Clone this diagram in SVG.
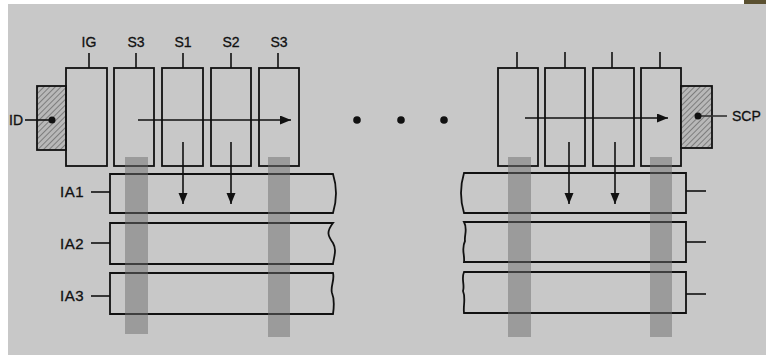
<svg xmlns="http://www.w3.org/2000/svg" width="766" height="358" viewBox="0 0 766 358">
<defs>
<style>
.bx{fill:none;stroke:#111;stroke-width:1.8}
.ln{fill:none;stroke:#111;stroke-width:1.6}
.hatch{fill:url(#hp);stroke:#111;stroke-width:1.8}
.lbl{font-family:"Liberation Sans",Arial,sans-serif;font-size:14px;fill:#111;stroke:#111;stroke-width:0.3}
.ia{font-family:"Liberation Sans",Arial,sans-serif;font-size:15px;fill:#111;stroke:#111;stroke-width:0.3;letter-spacing:0.5px}
.bar{fill:#6e6e6e;opacity:0.5}
.dot{fill:#111}
</style>
<pattern id="hp" patternUnits="userSpaceOnUse" width="4" height="4" patternTransform="rotate(45)">
<rect width="4" height="4" fill="#b8b8b8"/>
<line x1="0" y1="0" x2="0" y2="4" stroke="#555" stroke-width="1.2"/>
</pattern>
<marker id="ah" markerWidth="12" markerHeight="10" refX="11" refY="4.5" orient="auto" markerUnits="userSpaceOnUse">
<path d="M0,0 L11,4.5 L0,9 Z" fill="#111"/>
</marker>
</defs>
<rect width="766" height="358" fill="#fff"/>
<rect x="8" y="4" width="758" height="351" fill="#c8c8c8"/>
<rect x="744" y="0" width="22" height="4" fill="#5a5030"/>

<g id="ID">
<text class="lbl" x="23" y="125" text-anchor="end">ID</text>
</g>
<g id="hatch-left"><rect class="hatch" x="37" y="86" width="29" height="64"/></g>
<g id="IG"><rect class="bx" x="66" y="68" width="41" height="98"/><text class="lbl" x="89" y="47" text-anchor="middle">IG</text></g>
<g id="S3a"><rect class="bx" x="114" y="68" width="40" height="98"/><text class="lbl" x="136" y="47" text-anchor="middle">S3</text></g>
<g id="S1"><rect class="bx" x="162" y="68" width="41" height="98"/><text class="lbl" x="183" y="47" text-anchor="middle">S1</text></g>
<g id="S2"><rect class="bx" x="211" y="68" width="40" height="98"/><text class="lbl" x="231" y="47" text-anchor="middle">S2</text></g>
<g id="S3b"><rect class="bx" x="259" y="68" width="40" height="98"/><text class="lbl" x="279" y="47" text-anchor="middle">S3</text></g>

<g id="R1"><rect class="bx" x="498" y="68" width="40" height="98"/></g>
<g id="R2"><rect class="bx" x="545" y="68" width="40" height="98"/></g>
<g id="R3"><rect class="bx" x="593" y="68" width="41" height="98"/></g>
<g id="R4"><rect class="bx" x="641" y="68" width="40" height="98"/></g>
<g id="SCP">
<rect class="hatch" x="681" y="86" width="31" height="62"/>
<text class="lbl" x="732" y="121">SCP</text>
</g>

<g id="IA1"><path class="bx" d="M110,174 H333 Q339,193 333,213 H110 Z"/><text class="ia" x="84" y="197" text-anchor="end">IA1</text></g>
<g id="IA2"><path class="bx" d="M110,223 H333 C326,232 328,236 333,243 C337,250 334,256 333,264 H110 Z"/><text class="ia" x="84" y="249" text-anchor="end">IA2</text></g>
<g id="IA3"><path class="bx" d="M110,273 H333 C335,280 330,287 332,293 C335,300 334,307 333,314 H110 Z"/><text class="ia" x="84" y="301" text-anchor="end">IA3</text></g>

<g id="IA1r"><path class="bx" d="M686,173 H464 Q458,193 464,213 H686 Z"/></g>
<g id="IA2r"><path class="bx" d="M686,222 H464 C468,229 464,236 465,241 C461,249 465,255 464,262 H686 Z"/></g>
<g id="IA3r"><path class="bx" d="M686,272 H464 C461,279 465,285 463,291 C466,298 463,306 464,313 H686 Z"/></g>

<g id="dots">
<circle class="dot" cx="357" cy="120" r="3.8"/>
<circle class="dot" cx="401" cy="120" r="3.8"/>
<circle class="dot" cx="444" cy="120" r="3.8"/>
</g>

<g id="connectors">
<line class="ln" x1="89" y1="53" x2="89" y2="68"/>
<line class="ln" x1="136" y1="53" x2="136" y2="68"/>
<line class="ln" x1="183" y1="53" x2="183" y2="68"/>
<line class="ln" x1="231" y1="53" x2="231" y2="68"/>
<line class="ln" x1="278" y1="53" x2="278" y2="68"/>
<line class="ln" x1="517" y1="52" x2="517" y2="68"/>
<line class="ln" x1="565" y1="52" x2="565" y2="68"/>
<line class="ln" x1="612" y1="52" x2="612" y2="68"/>
<line class="ln" x1="660" y1="52" x2="660" y2="68"/>
<line class="ln" x1="25" y1="120" x2="52" y2="120"/>
<circle class="dot" cx="52" cy="120" r="3.5"/>
<line class="ln" x1="698" y1="116" x2="727" y2="116" stroke-width="2.5" style="stroke:#333"/>
<circle class="dot" cx="698" cy="116" r="3.5"/>
<line class="ln" x1="138" y1="120" x2="291" y2="120" marker-end="url(#ah)"/>
<line class="ln" x1="525" y1="118" x2="668" y2="118" marker-end="url(#ah)"/>
<line class="ln" x1="183" y1="142" x2="183" y2="204" marker-end="url(#ah)"/>
<line class="ln" x1="231" y1="142" x2="231" y2="204" marker-end="url(#ah)"/>
<line class="ln" x1="569" y1="142" x2="569" y2="204" marker-end="url(#ah)"/>
<line class="ln" x1="615" y1="142" x2="615" y2="204" marker-end="url(#ah)"/>
<line class="ln" x1="91" y1="192" x2="110" y2="192"/>
<line class="ln" x1="91" y1="243" x2="110" y2="243"/>
<line class="ln" x1="91" y1="296" x2="110" y2="296"/>
<line class="ln" x1="686" y1="191" x2="706" y2="191"/>
<line class="ln" x1="686" y1="242" x2="706" y2="242"/>
<line class="ln" x1="686" y1="294" x2="706" y2="294"/>
</g>

<g id="bars">
<rect class="bar" x="125" y="157" width="23" height="177"/>
<rect class="bar" x="268" y="157" width="22" height="180"/>
<rect class="bar" x="508" y="157" width="23" height="180"/>
<rect class="bar" x="650" y="157" width="22" height="180"/>
</g>
</svg>
